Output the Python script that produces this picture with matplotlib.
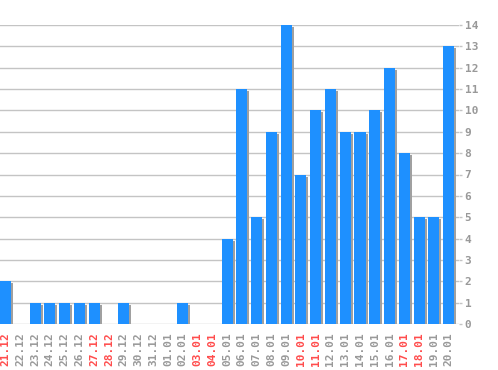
import matplotlib
matplotlib.use("Agg")
import matplotlib.pyplot as plt
import matplotlib.transforms as mtransforms

dates = ["21.12", "22.12", "23.12", "24.12", "25.12", "26.12", "27.12", "28.12",
         "29.12", "30.12", "31.12", "01.01", "02.01", "03.01", "04.01", "05.01",
         "06.01", "07.01", "08.01", "09.01", "10.01", "11.01", "12.01", "13.01",
         "14.01", "15.01", "16.01", "17.01", "18.01", "19.01", "20.01"]
values = [2, 0, 1, 1, 1, 1, 1, 0, 1, 0, 0, 0, 1, 0, 0, 4,
          11, 5, 9, 14, 7, 10, 11, 9, 9, 10, 12, 8, 5, 5, 13]
weekend = ["21.12", "27.12", "28.12", "03.01", "04.01", "10.01", "11.01", "17.01", "18.01"]
yticks = list(range(0, 15))

fig = plt.figure(figsize=(4.98, 3.70), dpi=100)
fig.patch.set_facecolor("white")
ax = fig.add_axes([0.0, 46/370, 459/498, 299/370])

x = list(range(len(dates)))
width = 0.75
shadow = ax.transData + mtransforms.ScaledTranslation(2/100, -2/100, fig.dpi_scale_trans)
ax.bar(x, values, width=width, color="#a0a0a0", transform=shadow, zorder=2, linewidth=0)
ax.bar(x, values, width=width, color="#1e90ff", zorder=3, linewidth=0)

ax.set_xlim(-width/2, 30.7)
ax.set_ylim(0, 14)
ax.set_yticks(yticks)
ax.yaxis.tick_right()
ax.grid(axis="y", color="#c4c4c4", linewidth=1, zorder=0)
ax.set_axisbelow(True)
for s in ax.spines.values():
    s.set_visible(False)

ax.tick_params(axis="y", colors="#c4c4c4", length=2.5, width=1, pad=1.5, labelcolor="#999999",
               labelsize=8)
for lab in ax.get_yticklabels():
    lab.set_fontfamily("DejaVu Sans Mono")
    lab.set_fontweight("bold")

ax.set_xticks(x)
ax.set_xticklabels(dates, rotation=90, fontsize=8, family="DejaVu Sans Mono", fontweight="bold")
ax.tick_params(axis="x", length=0, pad=6)
for lab in ax.get_xticklabels():
    lab.set_color("#ff4c4c" if lab.get_text() in weekend else "#999999")

fig.savefig("out.png", dpi=100, facecolor="white")
